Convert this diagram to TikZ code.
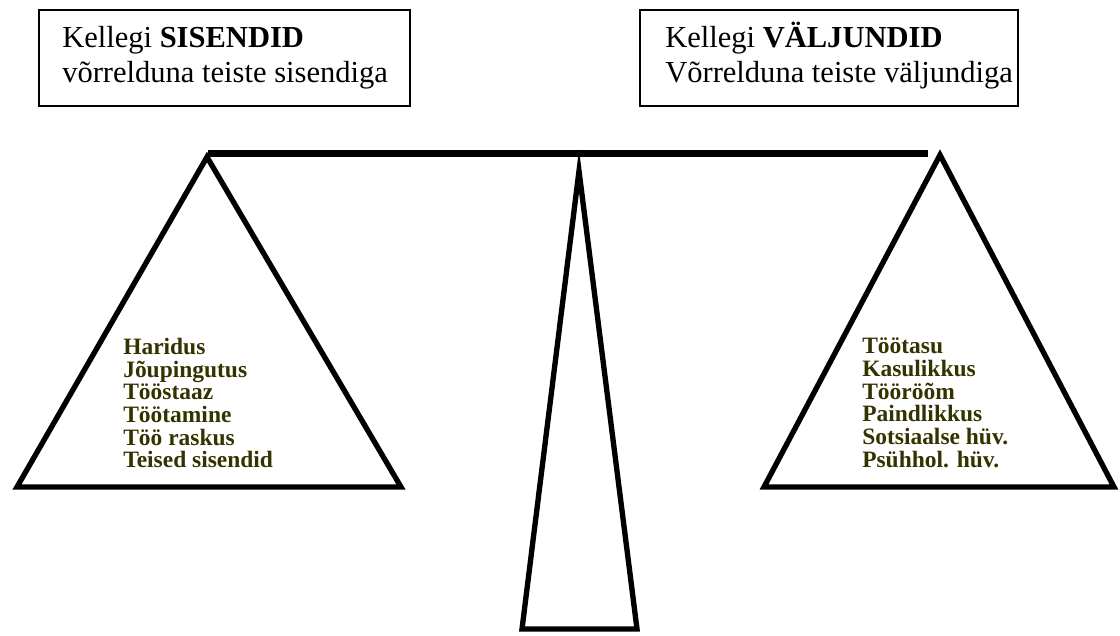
\documentclass[tikz,border=0pt]{standalone}
\usepackage{fontspec}
\setmainfont{Liberation Serif}
\definecolor{itemolive}{RGB}{51,51,0}
\begin{document}
\begin{tikzpicture}[x=0.75pt,y=-0.75pt,
  headbox/.style={draw=black,line width=1.5pt},
  headtext/.style={anchor=base west,inner sep=0pt,font=\fontsize{22.9}{26.25}\selectfont},
  itemlist/.style={anchor=north west,inner sep=0pt,text=itemolive,align=left,
    font=\fontsize{17.6}{17}\selectfont\bfseries},
  scalepart/.style={draw=black,line width=4pt,miter limit=20}]
\useasboundingbox (0,0) rectangle (1120,635);

% heading boxes
\draw[headbox] (39,10) rectangle (410,106);
\node[headtext] (inhead1) at (62,48) {Kellegi \textbf{SISENDID}};
\node[headtext] (inhead2) at (62,83) {võrrelduna teiste sisendiga};
\draw[headbox] (640,10) rectangle (1018,106);
\node[headtext] (outhead1) at (665,48) {Kellegi \textbf{VÄLJUNDID}};
\node[headtext] (outhead2) at (665,83) {Võrrelduna teiste väljundiga};

% pans and stand
\draw[scalepart] (207,157) -- (17,487) -- (401,487) -- cycle;
\draw[scalepart] (940,155) -- (764,487) -- (1114,487) -- cycle;
\draw[scalepart] (579,171) -- (522,629) -- (637,629) -- cycle;

% beam of the balance
\draw[black,line width=5.2pt] (208,153.5) -- (928,153.5);

% inputs and outputs
\node[itemlist] (inputs) at (123,338) {Haridus\\Jõupingutus\\Tööstaaz\\Töötamine\\Töö raskus\\Teised sisendid};
\node[itemlist] (outputs) at (862,338) {Töötasu\\Kasulikkus\\Tööröõm\\Paindlikkus\\Sotsiaalse hüv.\\Psühhol. hüv.};
\end{tikzpicture}
\end{document}
